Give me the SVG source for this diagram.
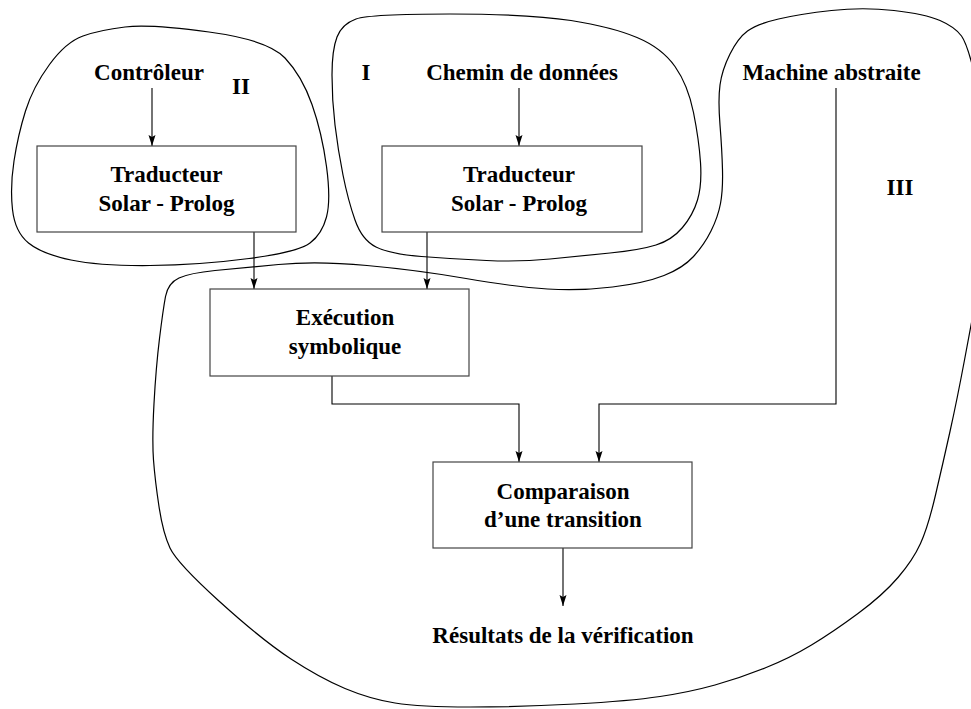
<svg xmlns="http://www.w3.org/2000/svg" width="971" height="709" viewBox="0 0 971 709">
<style>
.bg{fill:#fff}
.blob{fill:none;stroke:#000;stroke-width:1.2}
.box{fill:#fff;stroke:#444;stroke-width:1.2}
.edge{fill:none;stroke:#000;stroke-width:1.1}
text{font-family:"Liberation Serif","Times New Roman",serif;font-weight:bold;font-size:23px;fill:#000;text-anchor:middle}
</style>
<defs>
<marker id="arr" markerUnits="userSpaceOnUse" markerWidth="12" markerHeight="8" refX="11" refY="4" orient="auto">
<path d="M0,0.5 L11,4 L0,7.5 L2,4 z" fill="#000"/>
</marker>
</defs>
<rect class="bg" x="0" y="0" width="971" height="709"/>
<g id="regions">
<path id="region-II" class="blob" d="M209,32 Q268,40 285,58 Q302,76 312,104.5 Q322,133 326.5,166.5 Q331,200 326.5,217 Q322,234 310,243 Q298,252 249,258.5 Q200,265 150,265.5 Q100,266 71,260 Q42,254 28.5,243 Q15,232 12.5,209.5 Q10,187 14,161 Q18,135 25.5,111 Q33,87 49.5,64.5 Q66,42 83,36 Q100,30 125,27 Q150,24 209,32 Z"/>
<path id="region-I" class="blob" d="M450,14 Q530,14 571,20.5 Q612,27 637,37.5 Q662,48 675,66.5 Q688,85 693.5,112.5 Q699,140 700.5,162.5 Q702,185 697.5,200 Q693,215 682.5,227.5 Q672,240 656,245 Q640,250 610,253 Q580,256 550,259 Q520,262 486.5,260.5 Q453,259 421.5,256.5 Q390,254 376,247 Q362,240 355,220 Q348,200 343,175 Q338,150 335,125 Q332,100 332,75 Q332,50 337,37 Q342,24 356,19 Q370,14 450,14 Z"/>
<path id="region-III" class="blob" d="M894,10.5 Q925,14 940,20.5 Q955,27 961.5,36 Q968,45 976.5,82.5 Q985,120 985,185 Q985,250 978.5,285 Q972,320 964.5,360 Q957,400 950,431.5 Q943,463 935.5,495 Q928,527 920.5,543.5 Q913,560 898,577.5 Q883,595 858,613.5 Q833,632 811.5,645 Q790,658 765,668 Q740,678 715,685 Q690,692 660,696.5 Q630,701 575,704 Q520,707 470,707 Q420,707 395,703 Q370,699 345,688.5 Q320,678 291,659 Q262,640 219.5,601.5 Q177,563 170,548 Q163,533 159,506.5 Q155,480 153.5,460 Q152,440 154,403.5 Q156,367 159.5,338.5 Q163,310 165.5,296.5 Q168,283 179,278 Q190,273 215,270.5 Q240,268 278.5,264.5 Q317,261 367,265.5 Q417,270 466,278.5 Q515,287 547.5,289 Q580,291 612.5,287 Q645,283 664,275.5 Q683,268 693.5,256.5 Q704,245 711,231 Q718,217 720.5,203.5 Q723,190 722.5,170 Q722,150 720,125 Q718,100 720,85 Q722,70 730,54 Q738,38 747.5,31 Q757,24 778.5,19 Q800,14 831.5,10.5 Q863,7 894,10.5 Z"/>
<text x="241" y="94">II</text>
<text x="366" y="80">I</text>
<text x="900" y="195">III</text>
</g>
<g id="connectors">
<path class="edge" d="M152,88 V146" marker-end="url(#arr)"/>
<path class="edge" d="M519,88 V146" marker-end="url(#arr)"/>
<path class="edge" d="M254,232 V289" marker-end="url(#arr)"/>
<path class="edge" d="M427,232 V289" marker-end="url(#arr)"/>
<path class="edge" d="M332,376 V404 H519 V462" marker-end="url(#arr)"/>
<path class="edge" d="M836,88 V404 H599 V462" marker-end="url(#arr)"/>
<path class="edge" d="M563,548 V606" marker-end="url(#arr)"/>
</g>
<g id="controleur"><text x="149" y="80">Contrôleur</text></g>
<g id="chemin"><text x="522" y="80">Chemin de données</text></g>
<g id="machine"><text x="831.5" y="80">Machine abstraite</text></g>
<g id="traducteur1">
<rect class="box" x="37" y="146" width="259" height="86"/>
<text x="166.5" y="182">Traducteur</text>
<text x="166.5" y="211">Solar - Prolog</text>
</g>
<g id="traducteur2">
<rect class="box" x="382" y="146" width="260" height="86"/>
<text x="519" y="182">Traducteur</text>
<text x="519" y="211">Solar - Prolog</text>
</g>
<g id="execution">
<rect class="box" x="210" y="289" width="259" height="87"/>
<text x="345" y="325">Exécution</text>
<text x="345" y="354">symbolique</text>
</g>
<g id="comparaison">
<rect class="box" x="433" y="462" width="259" height="86"/>
<text x="563" y="499">Comparaison</text>
<text x="563" y="527">d’une transition</text>
</g>
<g id="resultats"><text x="563" y="643">Résultats de la vérification</text></g>
</svg>
